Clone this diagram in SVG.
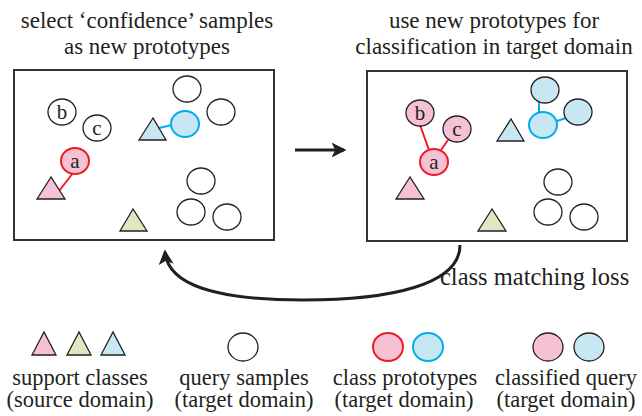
<svg xmlns="http://www.w3.org/2000/svg" width="642" height="416" viewBox="0 0 642 416">
<defs>
<style>
text{font-family:"Liberation Serif","Times New Roman",serif;fill:#231f20}
.t{font-size:23px;text-anchor:middle}
.l{font-size:22.5px;text-anchor:middle}
.in{font-size:21px;text-anchor:middle}
.box{fill:#fff;stroke:#333;stroke-width:2}
.q{fill:#fff;stroke:#231f20;stroke-width:1.3}
.pk{fill:#f6c1d4}
.gr{fill:#dfe8c2}
.bl{fill:#c7e7f3}
.tri{stroke:#231f20;stroke-width:1.3}
.cls{stroke:#231f20;stroke-width:1.3}
.pr{stroke:#ed1c24;stroke-width:2}
.pb{stroke:#00aeef;stroke-width:2}
.lr{stroke:#ed1c24;stroke-width:2}
.lb{stroke:#00aeef;stroke-width:2}
.arr{fill:none;stroke:#231f20;stroke-width:3}
</style>
<marker id="ah" viewBox="0 0 12 12" refX="10" refY="6" markerWidth="5" markerHeight="5" orient="auto" markerUnits="strokeWidth">
<path d="M0,0 L12,6 L0,12 L3,6 Z" fill="#231f20"/>
</marker>
</defs>

<g id="title-left">
<text class="t" x="147" y="28">select ‘confidence’ samples</text>
<text class="t" x="147" y="54">as new prototypes</text>
</g>
<g id="title-right">
<text class="t" x="494" y="28">use new prototypes for</text>
<text class="t" x="494" y="54">classification in target domain</text>
</g>

<g id="box-left">
<rect class="box" x="14" y="70" width="260" height="170"/>
<line class="lr" x1="73" y1="173" x2="59" y2="191"/>
<line class="lb" x1="159" y1="128" x2="172" y2="125"/>
<ellipse class="q" cx="62" cy="112" rx="14" ry="13"/>
<text class="in" x="62" y="119">b</text>
<ellipse class="q" cx="97" cy="128" rx="14" ry="13"/>
<text class="in" x="97" y="135">c</text>
<ellipse class="pk pr" cx="75" cy="161" rx="14" ry="13"/>
<text class="in" x="75" y="168">a</text>
<polygon class="pk tri" points="51,177 37,199 65,199"/>
<polygon class="bl tri" points="153,118 139,140 166,140"/>
<ellipse class="bl pb" cx="185" cy="124" rx="14" ry="13"/>
<polygon class="gr tri" points="133,209 120,231 147,231"/>
<ellipse class="q" cx="187" cy="89" rx="14" ry="13"/>
<ellipse class="q" cx="221" cy="112" rx="14" ry="13"/>
<ellipse class="q" cx="201" cy="181" rx="14" ry="13"/>
<ellipse class="q" cx="191" cy="212" rx="14" ry="13"/>
<ellipse class="q" cx="227" cy="217" rx="14" ry="13"/>
</g>

<g id="box-right">
<rect class="box" x="367" y="71" width="260" height="170"/>
<line class="lr" x1="420" y1="125" x2="429" y2="150"/>
<line class="lr" x1="448" y1="140" x2="441" y2="150"/>
<line class="lb" x1="539" y1="102" x2="539" y2="113"/>
<line class="lb" x1="557" y1="121" x2="566" y2="118"/>
<ellipse class="pk cls" cx="420" cy="113" rx="14" ry="13"/>
<text class="in" x="420" y="120">b</text>
<ellipse class="pk cls" cx="457" cy="129" rx="14" ry="13"/>
<text class="in" x="457" y="136">c</text>
<ellipse class="pk pr" cx="434" cy="162" rx="14" ry="13"/>
<text class="in" x="434" y="169">a</text>
<polygon class="pk tri" points="410,177 396,199 424,199"/>
<polygon class="bl tri" points="511,119 497,141 524,141"/>
<ellipse class="bl cls" cx="545" cy="90" rx="14" ry="13"/>
<ellipse class="bl cls" cx="578" cy="112" rx="14" ry="13"/>
<ellipse class="bl pb" cx="543" cy="125" rx="14" ry="13"/>
<polygon class="gr tri" points="492,209 478,231 506,231"/>
<ellipse class="q" cx="558" cy="182" rx="14" ry="13"/>
<ellipse class="q" cx="548" cy="212" rx="14" ry="13"/>
<ellipse class="q" cx="584" cy="217" rx="14" ry="13"/>
</g>

<g id="connectors">
<line class="arr" x1="295" y1="150" x2="344" y2="150" marker-end="url(#ah)"/>
<path class="arr" d="M460,245 C460,285 390,300 303,300 C215,300 168,285 165,252" marker-end="url(#ah)"/>
</g>

<g id="label-loss">
<text x="440" y="285" style="font-size:24.5px">class matching loss</text>
</g>

<g id="legend-support">
<polygon class="pk tri" points="44,332 32,355 56,355"/>
<polygon class="gr tri" points="79,332 67,355 91,355"/>
<polygon class="bl tri" points="113,332 101,355 125,355"/>
<text class="l" x="80" y="385">support classes</text>
<text class="l" x="80" y="407">(source domain)</text>
</g>
<g id="legend-query">
<ellipse class="q" cx="243" cy="347" rx="15" ry="14"/>
<text class="l" x="244" y="385">query samples</text>
<text class="l" x="244" y="407">(target domain)</text>
</g>
<g id="legend-prototypes">
<ellipse class="pk pr" cx="388" cy="347" rx="15" ry="14"/>
<ellipse class="bl pb" cx="428" cy="347" rx="15" ry="14"/>
<text class="l" x="405" y="385">class prototypes</text>
<text class="l" x="404" y="407">(target domain)</text>
</g>
<g id="legend-classified">
<ellipse class="pk cls" cx="548" cy="347" rx="15" ry="14"/>
<ellipse class="bl cls" cx="589" cy="347" rx="15" ry="14"/>
<text class="l" x="566" y="385">classified query</text>
<text class="l" x="566" y="407">(target domain)</text>
</g>
</svg>
